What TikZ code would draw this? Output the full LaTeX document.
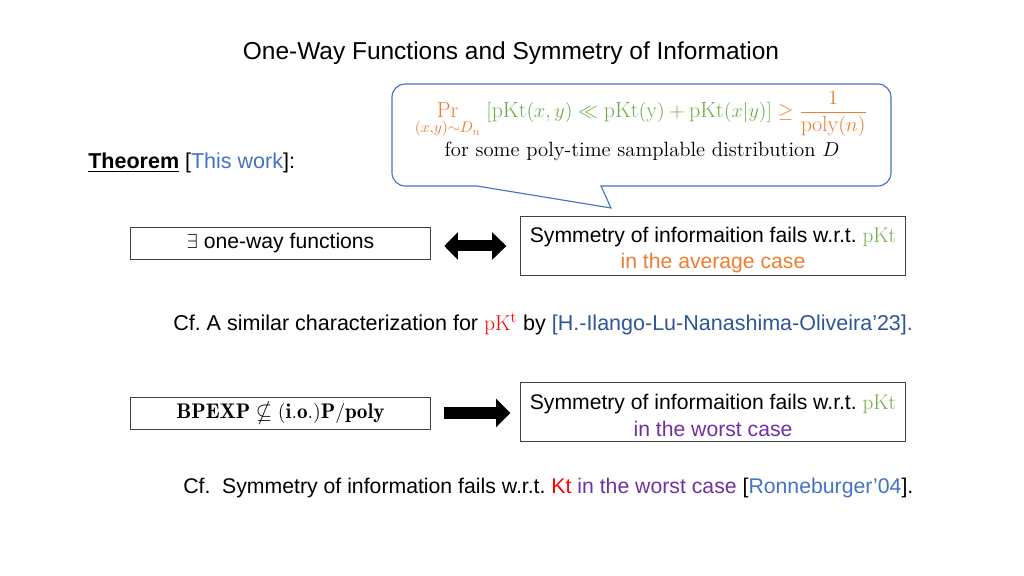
\documentclass[tikz,border=0pt]{standalone}
\usepackage{amsmath}
\usepackage{amssymb}
\usepackage{fontspec}
\setsansfont{Liberation Sans}
\usepackage{tikz}
\usetikzlibrary{arrows.meta}
\definecolor{grn}{HTML}{70AD47}
\definecolor{orng}{HTML}{ED7D31}
\definecolor{blueA}{HTML}{4472C4}
\definecolor{blueB}{HTML}{2F5597}
\definecolor{purp}{HTML}{7030A0}
\definecolor{rd}{HTML}{FF0000}
\frenchspacing

\begin{document}
\begin{tikzpicture}[x=0.025cm,y=-0.025cm,
	txt/.style={font=\sffamily\fontsize{15.3}{18.5}\selectfont, inner sep=0pt},
	box/.style={font=\sffamily\fontsize{15.05}{18.5}\selectfont, inner sep=2pt, draw=black!75, line width=0.7pt, align=center},
	fat/.style={line width=0.275cm, black}]
	\useasboundingbox (0,0) rectangle (1024,576);
	\node[txt, font=\sffamily\fontsize{17.4}{20}\selectfont] (title) at (511,53) {One-Way Functions and Symmetry of Information};
	\draw[blueA, fill=white, line width=0.8pt] (601,186) [rounded corners=0.33cm] -- (891,186) -- (891,84) -- (392,84) -- (392,186) [sharp corners] -- (477,186) -- (611,208) -- cycle;
	\node[inner sep=0pt, font=\fontsize{15.6}{19}\selectfont] (prob) at (641,115) {$\displaystyle \textcolor{orng}{\Pr_{(x,y)\sim D_n}}\;\textcolor{grn}{[\mathrm{pKt}(x,y) \ll \mathrm{pKt}(\mathrm{y}) + \mathrm{pKt}(x|y)]} \textcolor{orng}{{}\geq \frac{1}{\mathrm{poly}(n)}}$};
	\node[inner sep=0pt, font=\fontsize{14.7}{18}\selectfont] (samp) at (642,151) {for some poly-time samplable distribution $D$};
	\node[txt, anchor=west] (thm) at (88,163) {\textbf{\underline{Theorem}} [\textcolor{blueA}{This work}]:};
	\node[box, minimum width=7.5cm, minimum height=0.8cm] (owf) at (280.5,243) {$\exists$ one-way functions};
	\node[box, minimum width=9.6cm, minimum height=1.45cm] (avg) at (713,246) {\rule{0pt}{16.5pt}Symmetry of informaition fails w.r.t. \textcolor{grn}{$\mathrm{pKt}$}\\\textcolor{orng}{in the average case}};
	\draw[fat, {Triangle[length=0.34cm,width=0.67cm]}-{Triangle[length=0.36cm,width=0.67cm]}, shorten <=0.33cm, shorten >=0.35cm] (avg.west -| owf.east) -- (avg.west);
	\node[txt, anchor=west] (cf1) at (173,324) {Cf. A similar characterization for \textcolor{rd}{$\mathrm{pK^t}$} by \textcolor{blueB}{[H.-Ilango-Lu-Nanashima-Oliveira’23].}};
	\node[box, minimum width=7.5cm, minimum height=0.8cm] (bpexp) at (280.5,413) {$\mathbf{BPEXP} \nsubseteq \mathbf{(i.o.)P/poly}$};
	\node[box, minimum width=9.6cm, minimum height=1.475cm] (worst) at (713,411.5) {\rule{0pt}{16.5pt}Symmetry of informaition fails w.r.t. \textcolor{grn}{$\mathrm{pKt}$}\\\textcolor{purp}{in the worst case}};
	\draw[fat, -{Triangle[length=0.36cm,width=0.7cm]}, shorten <=0.33cm, shorten >=0.25cm] (bpexp.east) -- (bpexp.east -| worst.west);
	\node[txt, anchor=west, font=\sffamily\fontsize{15.1}{18.5}\selectfont] (cf2) at (183,488) {Cf.\ \ Symmetry of information fails w.r.t. \textcolor{rd}{Kt} \textcolor{purp}{in the worst case} [\textcolor{blueA}{Ronneburger’04}].};
\end{tikzpicture}
\end{document}
